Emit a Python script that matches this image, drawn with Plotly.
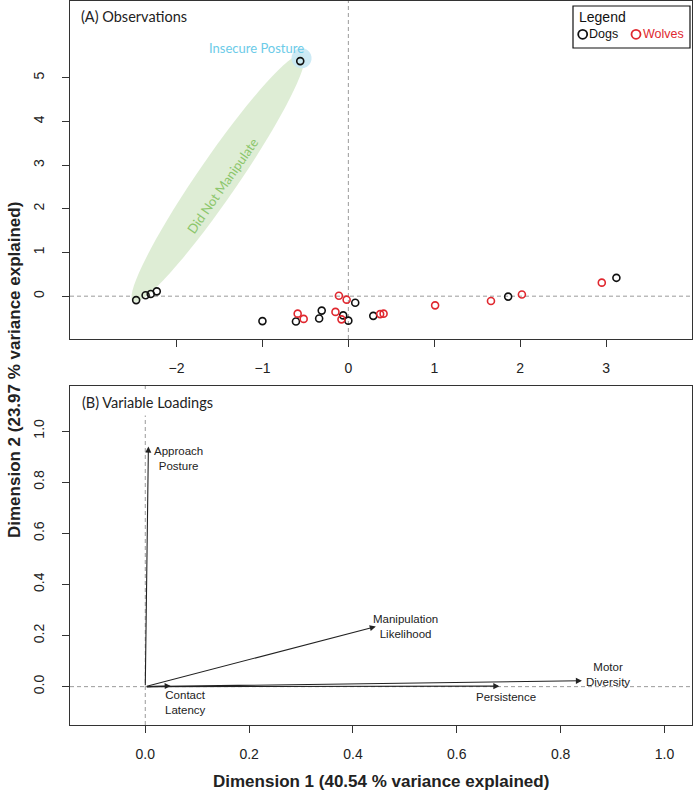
"""PCA biplot of dog and wolf observations with variable loadings."""
import math
from typing import List, Tuple

import plotly.graph_objects as go

# Panel (A): observation scores on the first two dimensions
DOG_X = [-2.47, -2.36, -2.30, -2.23, -0.56, -1.00, -0.61, -0.31, -0.34, -0.06,
         0.00, 0.08, 0.29, 1.86, 3.12]
DOG_Y = [-0.09, 0.02, 0.05, 0.11, 5.38, -0.57, -0.58, -0.33, -0.51, -0.44,
         -0.56, -0.15, -0.45, -0.01, 0.42]
WOLF_X = [-0.59, -0.52, -0.11, -0.02, -0.15, -0.08, 0.37, 0.41, 1.01, 1.66, 2.02, 2.95]
WOLF_Y = [-0.40, -0.52, 0.01, -0.08, -0.36, -0.53, -0.41, -0.40, -0.21, -0.11, 0.04, 0.31]

# Panel (B): variable loadings
LOADING_NAMES = ['Approach<br>Posture', 'Contact<br>Latency', 'Manipulation<br>Likelihood',
                 'Persistence', 'Motor<br>Diversity']
LOADING_X = [0.006, 0.049, 0.444, 0.682, 0.841]
LOADING_Y = [0.939, 0.003, 0.235, 0.002, 0.023]

A_XTICKS = [-2, -1, 0, 1, 2, 3]
A_YTICKS = [0, 1, 2, 3, 4, 5]
B_TICKS = [0.0, 0.2, 0.4, 0.6, 0.8, 1.0]

# Where each loading label sits (offset from its arrow tip)
LABEL_OFFSETS = [(0.058, -0.046), (0.029, -0.065), (0.057, 0.001),
                 (0.013, -0.041), (0.050, 0.025)]

W, H = 694, 791
A_XRANGE = [-3.24, 4.0]
A_YRANGE = [-0.98, 6.76]
B_XRANGE = [-0.145, 1.053]
B_YRANGE = [-0.15, 1.176]
X_DOMAIN = [70 / W, 692 / W]
A_DOMAIN = [1 - 339 / H, 1 - 0.8 / H]
B_DOMAIN = [1 - 725 / H, 1 - 386 / H]

TEXT = '#222222'
AXIS = '#333333'
RED = '#e0282f'
FONT = 'Liberation Sans, Arial, sans-serif'
HUMANIST = 'Lato, Open Sans, sans-serif'


def ellipse_path(cx: float, cy: float, major_px: float, minor_px: float,
                 angle_deg: float) -> str:
    """Return an SVG path (in panel A data units) for an ellipse given in pixels."""
    sx = (X_DOMAIN[1] - X_DOMAIN[0]) * W / (A_XRANGE[1] - A_XRANGE[0])
    sy = (A_DOMAIN[1] - A_DOMAIN[0]) * H / (A_YRANGE[1] - A_YRANGE[0])
    a = math.radians(angle_deg)
    pts: List[Tuple[float, float]] = []
    for i in range(73):
        t = 2 * math.pi * i / 72
        px = major_px * math.cos(t) * math.cos(a) - minor_px * math.sin(t) * math.sin(a)
        py = major_px * math.cos(t) * math.sin(a) + minor_px * math.sin(t) * math.cos(a)
        pts.append((cx + px / sx, cy + py / sy))
    return 'M ' + ' L '.join(f'{x:.4f},{y:.4f}' for x, y in pts) + ' Z'


def axis_style(rng: List[float], ticks: List[float], domain: List[float],
               anchor: str, vertical: bool, fmt: str = '') -> dict:
    """Return an R-like boxed axis definition."""
    return dict(range=rng, domain=domain, anchor=anchor, tickvals=ticks,
                tickformat=fmt, showgrid=False, zeroline=False,
                showline=True, mirror=True, linecolor=AXIS, linewidth=1.4,
                ticks='outside', ticklen=7, tickwidth=1.2, tickcolor=AXIS,
                tickangle=-90 if vertical else 0,
                ticklabelstandoff=12 if vertical else 9,
                tickfont=dict(family=FONT, size=14, color=TEXT))


fig = go.Figure()

# Observations
fig.add_trace(go.Scatter(x=DOG_X, y=DOG_Y, mode='markers', xaxis='x', yaxis='y',
                         marker=dict(symbol='circle-open', size=7, color='#111111',
                                     line=dict(width=1.6)),
                         showlegend=False))
fig.add_trace(go.Scatter(x=WOLF_X, y=WOLF_Y, mode='markers', xaxis='x', yaxis='y',
                         marker=dict(symbol='circle-open', size=7, color=RED,
                                     line=dict(width=1.6)),
                         showlegend=False))

shapes = []
annotations = []

# Highlight groups behind the points
shapes.append(dict(type='path', xref='x', yref='y', layer='below', line=dict(width=0),
                   fillcolor='#deedd5',
                   path=ellipse_path(-1.517, 2.705, 150, 20, 55.5)))
shapes.append(dict(type='path', xref='x', yref='y', layer='below', line=dict(width=0),
                   fillcolor='rgba(200,232,244,0.9)',
                   path=ellipse_path(-0.545, 5.445, 10, 10, 0)))

# Dashed reference lines through the origin
dash = dict(color='#9a9a9a', width=1, dash='4px,3px')
for xr, yr in (('x', 'y'), ('x2', 'y2')):
    shapes.append(dict(type='line', xref=xr, yref=f'{yr} domain', x0=0, x1=0, y0=0, y1=1,
                       line=dash, layer='below'))
    shapes.append(dict(type='line', xref=f'{xr} domain', yref=yr, x0=0, x1=1, y0=0, y1=0,
                       line=dash, layer='below'))

annotations.append(dict(x=-1.47, y=2.53, xref='x', yref='y', text='Did Not Manipulate',
                        showarrow=False, textangle=-55,
                        font=dict(family=HUMANIST, size=13, color='#8cc66c')))
annotations.append(dict(x=-1.07, y=5.69, xref='x', yref='y', text='Insecure Posture',
                        showarrow=False,
                        font=dict(family=HUMANIST, size=13, color='#6ccbe8')))

# Loading arrows and their labels
for name, lx, ly, (dx, dy) in zip(LOADING_NAMES, LOADING_X, LOADING_Y, LABEL_OFFSETS):
    annotations.append(dict(x=lx, y=ly, xref='x2', yref='y2', ax=0, ay=0,
                            axref='x2', ayref='y2', text='', showarrow=True,
                            arrowhead=2, arrowsize=1.1, arrowwidth=1.1, arrowcolor='#222222',
                            standoff=0))
    annotations.append(dict(x=lx + dx, y=ly + dy, xref='x2', yref='y2', text=name,
                            showarrow=False,
                            font=dict(family=FONT, size=11.5, color=TEXT)))

# Panel titles
annotations.append(dict(x=79 / W, y=1 - 16 / H, xref='paper', yref='paper',
                        xanchor='left', yanchor='middle', text='(A) Observations',
                        showarrow=False, font=dict(family=HUMANIST, size=14.5, color=TEXT)))
annotations.append(dict(x=77 / W, y=1 - 402 / H, xref='paper', yref='paper',
                        xanchor='left', yanchor='middle', text='(B) Variable Loadings',
                        showarrow=False, bgcolor='white', borderpad=4,
                        font=dict(family=HUMANIST, size=14.5, color=TEXT)))

# Axis titles shared by both panels
annotations.append(dict(x=0.5 * (X_DOMAIN[0] + X_DOMAIN[1]), y=1 - 781 / H,
                        xref='paper', yref='paper', yanchor='middle',
                        text='<b>Dimension 1 (40.54 % variance explained)</b>',
                        showarrow=False, font=dict(family=FONT, size=17, color=TEXT)))
annotations.append(dict(x=14 / W, y=1 - 370 / H, xref='paper', yref='paper',
                        xanchor='center', yanchor='middle', textangle=-90,
                        text='<b>Dimension 2 (23.97 % variance explained)</b>',
                        showarrow=False, font=dict(family=FONT, size=17, color=TEXT)))

# Hand-built legend box for panel (A)
shapes.append(dict(type='rect', xref='paper', yref='paper', x0=573 / W, x1=690 / W,
                   y0=1 - 48 / H, y1=1 - 6 / H, line=dict(color='#111111', width=1.2),
                   fillcolor='white'))
annotations.append(dict(x=577 / W, y=1 - 17 / H, xref='paper', yref='paper',
                        xanchor='left', yanchor='middle', text='Legend', showarrow=False,
                        font=dict(family=FONT, size=14, color='#111111')))
for cx, label, colour in ((582.7, 'Dogs', '#111111'), (636, 'Wolves', RED)):
    shapes.append(dict(type='circle', xref='paper', yref='paper',
                       xsizemode='pixel', ysizemode='pixel',
                       xanchor=cx / W, yanchor=1 - 34.3 / H,
                       x0=-4.5, x1=4.5, y0=-4.5, y1=4.5,
                       line=dict(color=colour, width=1.8)))
    annotations.append(dict(x=(cx + 4.5) / W, y=1 - 34.5 / H, xref='paper', yref='paper',
                            xanchor='left', yanchor='middle', text=label, showarrow=False,
                            font=dict(family=FONT, size=12.5, color=colour)))

fig.update_layout(
    width=W, height=H,
    margin=dict(l=0, r=0, t=0, b=0),
    plot_bgcolor='white', paper_bgcolor='white',
    showlegend=False,
    xaxis=axis_style(A_XRANGE, A_XTICKS, X_DOMAIN, 'y', False),
    yaxis=axis_style(A_YRANGE, A_YTICKS, A_DOMAIN, 'x', True),
    xaxis2=axis_style(B_XRANGE, B_TICKS, X_DOMAIN, 'y2', False, '.1f'),
    yaxis2=axis_style(B_YRANGE, B_TICKS, B_DOMAIN, 'x2', True, '.1f'),
    shapes=shapes,
    annotations=annotations,
)

# The page's default body margin would push the figure off the window
fig.write_html('out.html', config={'displayModeBar': False},
               post_script="document.body.style.margin='0';")
